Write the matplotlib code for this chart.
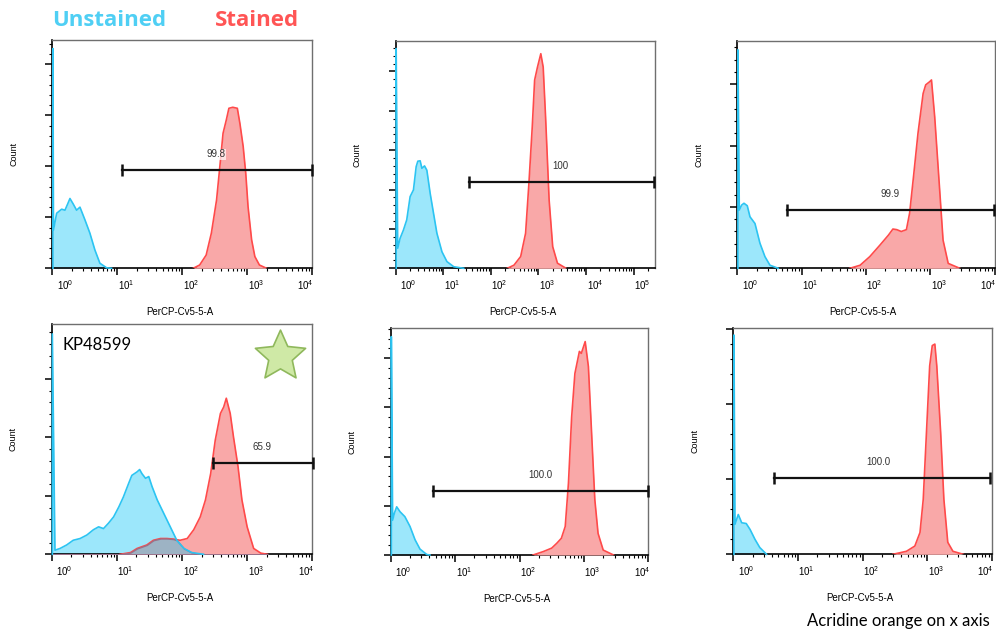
import numpy as np
import matplotlib
matplotlib.use("Agg")
import matplotlib.pyplot as plt
from matplotlib.path import Path
from matplotlib.ticker import FixedLocator, MultipleLocator, NullFormatter
from matplotlib.transforms import ScaledTranslation

plt.rcParams['font.family'] = 'Liberation Sans'
plt.rcParams['mathtext.default'] = 'regular'

CYAN_LINE = '#2cc4f2'
CYAN_FILL = '#9ce7fb'
RED_LINE = '#ff4a4a'
RED_FILL = '#f9a8a8'
OVERLAP_FILL = '#9db3c4'
OVERLAP_EDGE = '#9a7088'

# histogram traces: x in log10(PerCP-Cy5-5-A), y in count units (one major tick = 1)
p1_cyan_x = [0.01, 0.01, 0.018, 0.067, 0.144, 0.195, 0.236, 0.272, 0.323, 0.374, 0.426,
             0.503, 0.579, 0.656, 0.733, 0.836, 0.913]
p1_cyan_y = [0, 4.31, 0.75, 1.08, 1.16, 1.14, 1.26, 1.37, 1.26, 1.14, 1.20,
             0.95, 0.69, 0.36, 0.10, 0.01, 0]
p1_red_x = [2.17, 2.27, 2.37, 2.45, 2.53, 2.58, 2.63, 2.68, 2.72, 2.78, 2.85, 2.89, 2.94,
            2.98, 3.015, 3.07, 3.12, 3.19, 3.30]
p1_red_y = [0, 0.065, 0.26, 0.69, 1.34, 1.99, 2.65, 2.91, 3.14, 3.16, 3.14, 2.84, 2.39,
            1.86, 1.21, 0.56, 0.23, 0.065, 0]

p2_cyan_x = [0.01, 0.01, 0.042, 0.092, 0.162, 0.232, 0.303, 0.373, 0.43, 0.465, 0.514,
             0.55, 0.606, 0.655, 0.725, 0.796, 0.866, 0.972, 1.077, 1.22, 1.43]
p2_cyan_y = [0, 5.58, 0.51, 0.76, 0.97, 1.23, 1.82, 1.99, 2.58, 2.72, 2.73,
             2.54, 2.60, 2.49, 1.90, 1.39, 0.89, 0.42, 0.17, 0.04, 0]
p2_red_x = [2.345, 2.486, 2.627, 2.73, 2.80, 2.87, 2.92, 2.98, 3.05, 3.10, 3.15, 3.225,
            3.30, 3.40, 3.58]
p2_red_y = [0, 0.08, 0.30, 0.89, 2.16, 3.59, 4.78, 5.11, 5.45, 5.11, 3.85, 1.73,
            0.55, 0.13, 0]

p3_cyan_x = [0.01, 0.01, 0.031, 0.067, 0.104, 0.155, 0.197, 0.275, 0.352, 0.43, 0.508, 0.637]
p3_cyan_y = [0, 3.56, 0.95, 1.03, 1.06, 1.02, 0.84, 0.73, 0.41, 0.19, 0.05, 0]
p3_red_x = [1.75, 1.91, 2.06, 2.22, 2.35, 2.42, 2.48, 2.55, 2.63, 2.68, 2.74, 2.81, 2.89,
            2.93, 2.99, 3.02, 3.07, 3.14, 3.20, 3.28, 3.46]
p3_red_y = [0, 0.05, 0.19, 0.38, 0.54, 0.64, 0.63, 0.60, 0.63, 0.90, 1.49, 2.20, 2.85,
            2.99, 3.04, 3.07, 2.47, 1.39, 0.46, 0.08, 0]

p4_cyan_x = [0.01, 0.01, 0.05, 0.128, 0.23, 0.33, 0.436, 0.54, 0.64, 0.72, 0.795, 0.87,
             0.95, 1.03, 1.10, 1.18, 1.23, 1.31, 1.35, 1.385, 1.44, 1.49, 1.54, 1.62,
             1.72, 1.82, 1.92, 2.03, 2.15, 2.33]
p4_cyan_y = [0, 3.77, 0.07, 0.10, 0.16, 0.24, 0.27, 0.33, 0.42, 0.47, 0.44, 0.53,
             0.64, 0.81, 0.98, 1.21, 1.35, 1.41, 1.45, 1.38, 1.30, 1.33, 1.16, 0.93,
             0.70, 0.47, 0.24, 0.10, 0.03, 0]
p4_red_x = [1.05, 1.21, 1.31, 1.46, 1.56, 1.67, 1.77, 1.87, 1.97, 2.08, 2.18, 2.28, 2.36,
            2.44, 2.51, 2.59, 2.64, 2.68, 2.74, 2.79, 2.86, 2.92, 3.0, 3.10, 3.21, 3.31]
p4_red_y = [0, 0.03, 0.10, 0.16, 0.24, 0.27, 0.27, 0.26, 0.24, 0.27, 0.42, 0.64, 0.93,
            1.38, 1.95, 2.41, 2.52, 2.67, 2.41, 2.01, 1.50, 0.93, 0.47, 0.10, 0.02, 0]

p5_cyan_x = [0.01, 0.01, 0.03, 0.057, 0.093, 0.145, 0.22, 0.30, 0.378, 0.455, 0.56, 0.61]
p5_cyan_y = [0, 4.44, 0.71, 0.85, 0.98, 0.88, 0.78, 0.58, 0.31, 0.12, 0.01, 0]
p5_red_x = [2.21, 2.37, 2.50, 2.58, 2.65, 2.71, 2.76, 2.81, 2.86, 2.93, 2.96, 3.02, 3.07,
            3.12, 3.17, 3.22, 3.30, 3.46]
p5_red_y = [0, 0.07, 0.14, 0.24, 0.34, 0.58, 1.46, 2.81, 3.69, 4.14, 4.10, 4.34, 3.83,
            2.47, 1.12, 0.44, 0.10, 0]

p6_cyan_x = [0.01, 0.01, 0.026, 0.077, 0.13, 0.20, 0.26, 0.335, 0.41, 0.515]
p6_cyan_y = [0, 2.92, 0.40, 0.53, 0.42, 0.41, 0.33, 0.20, 0.09, 0]
p6_red_x = [2.47, 2.68, 2.81, 2.89, 2.94, 2.99, 3.04, 3.08, 3.12, 3.15, 3.21, 3.26, 3.32,
            3.40, 3.56]
p6_red_y = [0, 0.04, 0.11, 0.29, 0.73, 1.62, 2.51, 2.78, 2.80, 2.51, 1.62, 0.73, 0.16,
            0.04, 0]

# gates (log10 start/end, height) and the percentage each one reports
gate_lo = [1.067, 1.55, 0.777, 2.48, 0.66, 0.63]
gate_hi = [4.0, 5.42, 3.99, 4.01, 4.0, 3.97]
gate_y = [1.92, 2.18, 0.95, 1.57, 1.30, 1.02]
gate_pct = ["99.8", "100", "99.9", "65.9", "100.0", "100.0"]
gate_label_x = [2.52, 3.47, 2.37, 3.23, 2.32, 2.24]

x_max = [4.0, 5.45, 4.0, 4.0, 4.0, 4.0]
y_max = [4.48, 5.78, 3.70, 3.94, 4.61, 3.01]

cyan_x = [p1_cyan_x, p2_cyan_x, p3_cyan_x, p4_cyan_x, p5_cyan_x, p6_cyan_x]
cyan_y = [p1_cyan_y, p2_cyan_y, p3_cyan_y, p4_cyan_y, p5_cyan_y, p6_cyan_y]
red_x = [p1_red_x, p2_red_x, p3_red_x, p4_red_x, p5_red_x, p6_red_x]
red_y = [p1_red_y, p2_red_y, p3_red_y, p4_red_y, p5_red_y, p6_red_y]

W, H = 996, 632
# axes boxes in pixels: left, top, right, bottom
boxes = [(52.3, 40, 312, 268.3), (395.7, 40.7, 655, 268.3), (737.3, 41.3, 994.5, 268.3),
         (51.7, 324, 312.3, 554.3), (390.7, 328.3, 648.3, 555), (733.3, 328.3, 991.7, 554.3)]

fig = plt.figure(figsize=(W / 100, H / 100), dpi=100)


def draw_panel(i):
    l, t, r, b = boxes[i]
    ax = fig.add_axes([l / W, 1 - b / H, (r - l) / W, (b - t) / H])
    ax.set_xscale('log')

    cx = 10 ** np.array(cyan_x[i])
    cy = np.array(cyan_y[i])
    rx = 10 ** np.array(red_x[i])
    ry = np.array(red_y[i])

    ax.fill_between(cx, 0, cy, color=CYAN_FILL, lw=0, zorder=2)
    ax.fill_between(rx, 0, ry, color=RED_FILL, lw=0, zorder=3)
    ax.plot(rx, ry, color=RED_LINE, lw=1.2, zorder=4)

    # where the two populations overlap
    grid = np.union1d(cyan_x[i], red_x[i])
    lo = np.minimum(np.interp(grid, cyan_x[i][1:], cyan_y[i][1:], left=0, right=0),
                    np.interp(grid, red_x[i], red_y[i], left=0, right=0))
    if lo.max() > 0.05:
        ax.fill_between(10 ** grid, 0, lo, facecolor=OVERLAP_FILL, edgecolor=OVERLAP_EDGE,
                        lw=1.0, zorder=5)
    ax.plot(cx, cy, color=CYAN_LINE, lw=1.2, zorder=6, clip_on=False)

    # gate bar with end caps
    gx = [10 ** gate_lo[i], 10 ** gate_hi[i]]
    ax.plot(gx, [gate_y[i]] * 2, color='#111111', lw=1.6, zorder=7, clip_on=False)
    ax.plot(gx, [gate_y[i]] * 2, ls='none', marker='|', ms=8, mew=1.8, color='#111111',
            zorder=7, clip_on=False)
    ax.annotate(gate_pct[i], (10 ** gate_label_x[i], gate_y[i]), xytext=(0, 11.5),
                textcoords='offset points', ha='center', va='center', fontsize=7,
                color='#333333', zorder=8,
                bbox=dict(boxstyle='square,pad=0.1', fc='white', ec='none', alpha=0.7))

    ax.set_xlim(1, 10 ** x_max[i])
    ax.set_ylim(0, y_max[i])

    decades = np.arange(0, int(np.floor(x_max[i] + 1e-6)) + 1)
    ax.xaxis.set_major_locator(FixedLocator(10.0 ** decades))
    ax.set_xticklabels(['$10^{%d}$' % d for d in decades])
    ax.xaxis.set_minor_formatter(NullFormatter())
    ax.yaxis.set_major_locator(MultipleLocator(1))
    ax.yaxis.set_minor_locator(MultipleLocator(0.2))
    ax.set_yticklabels([])

    ax.tick_params(which='major', direction='out', length=5, width=1.1, color='black',
                   labelsize=7, pad=2)
    ax.tick_params(which='minor', direction='out', length=2.5, width=0.8, color='black')
    for k, lab in enumerate(ax.get_xticklabels()):
        if abs(decades[k] - x_max[i]) < 1e-6:
            lab.set_horizontalalignment('right')
            lab.set_transform(lab.get_transform() + ScaledTranslation(0.02, 0, fig.dpi_scale_trans))
        else:
            lab.set_horizontalalignment('left')
            shift = 0.045 if k == 0 else 0.005
            lab.set_transform(lab.get_transform() + ScaledTranslation(shift, 0, fig.dpi_scale_trans))

    for side in ('left', 'bottom'):
        ax.spines[side].set_color('black')
        ax.spines[side].set_linewidth(1.2)
    for side in ('top', 'right'):
        ax.spines[side].set_color('#6f6f6f')
        ax.spines[side].set_linewidth(1.0)

    ax.set_ylabel('Count', fontsize=6.5)
    ax.yaxis.set_label_coords(-34 / (r - l), 0.5)
    ax.set_xlabel('PerCP-Cv5-5-A', fontsize=7)
    ax.xaxis.set_label_coords(0.49, -38.5 / (b - t))
    return ax


axes = [draw_panel(i) for i in range(6)]

# sample tag on the lower-left panel
axes[3].text(0.043, 0.909, 'KP48599', transform=axes[3].transAxes, fontsize=12,
             family='Lato', va='center', ha='left')
star = Path.unit_regular_star(5, 0.47)
axes[3].plot([0.876], [0.863], transform=axes[3].transAxes, marker=star, ms=38,
             mfc='#cfe9a6', mec='#8fb85c', mew=1.2, zorder=9, clip_on=False)

fig.text(51.7 / W, 1 - 26 / H, 'Unstained', color='#4fcff4', fontsize=16,
         family='Open Sans', weight='bold', ha='left', va='baseline')
fig.text(215 / W, 1 - 26 / H, 'Stained', color='#ff5555', fontsize=16,
         family='Open Sans', weight='bold', ha='left', va='baseline')
fig.text(807 / W, 1 - 626 / H, 'Acridine orange on x axis', fontsize=12,
         family='Lato', ha='left', va='baseline')

fig.savefig('out.png', dpi=100)
